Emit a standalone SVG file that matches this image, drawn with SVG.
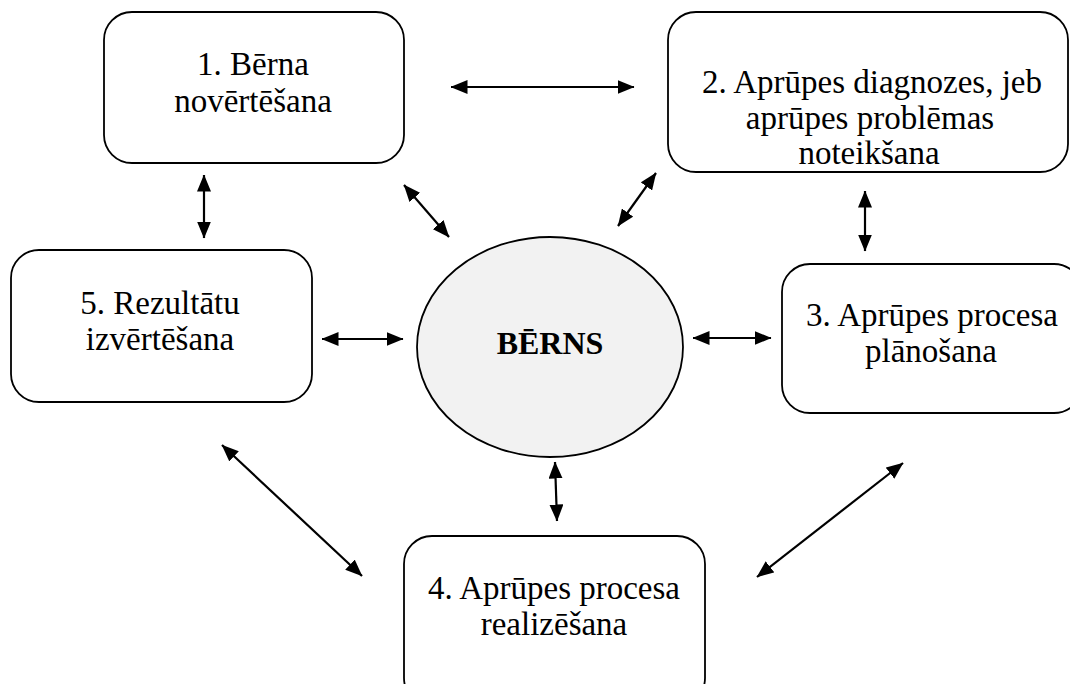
<svg xmlns="http://www.w3.org/2000/svg" width="1070" height="684" viewBox="0 0 1070 684">
<defs>
<marker id="ah" viewBox="0 0 17 14" refX="16.5" refY="7" markerWidth="17" markerHeight="14" markerUnits="userSpaceOnUse" orient="auto-start-reverse">
<path d="M0,0 L17,7 L0,14 Z" fill="#000"/>
</marker>
</defs>
<style>
.box{fill:#fff;stroke:#000;stroke-width:1.8}
.t{font-family:"Liberation Serif","Times New Roman",serif;font-size:33px;fill:#000;text-anchor:middle}
.b{font-weight:bold;font-size:32px}
.c{stroke:#000;stroke-width:2.2;fill:none;marker-start:url(#ah);marker-end:url(#ah)}
</style>
<rect width="1070" height="684" fill="#fff"/>
<g id="connectors">
<line class="c" x1="451" y1="87" x2="634" y2="87"/>
<line class="c" x1="204" y1="175" x2="204" y2="238"/>
<line class="c" x1="404" y1="185" x2="449" y2="237"/>
<line class="c" x1="656" y1="173" x2="618" y2="226"/>
<line class="c" x1="865" y1="191" x2="865" y2="251"/>
<line class="c" x1="322" y1="339" x2="403" y2="339"/>
<line class="c" x1="693" y1="338" x2="771" y2="338"/>
<line class="c" x1="555" y1="462" x2="557" y2="521"/>
<line class="c" x1="222" y1="445" x2="362" y2="576"/>
<line class="c" x1="903" y1="463" x2="757" y2="577"/>
</g>
<g id="n1">
<rect class="box" x="104" y="12" width="300" height="151" rx="28"/>
<text class="t" x="253" y="75">1. Bērna</text>
<text class="t" x="253" y="112">novērtēšana</text>
</g>
<g id="n2">
<rect class="box" x="668" y="12" width="400" height="160" rx="28"/>
<text class="t" x="872" y="93">2. Aprūpes diagnozes, jeb</text>
<text class="t" x="870" y="129">aprūpes problēmas</text>
<text class="t" x="869" y="164">noteikšana</text>
</g>
<g id="n3">
<rect class="box" x="782" y="264" width="300" height="149" rx="28"/>
<text class="t" x="932" y="326">3. Aprūpes procesa</text>
<text class="t" x="931" y="362">plānošana</text>
</g>
<g id="n4">
<rect class="box" x="404" y="536" width="301" height="170" rx="28"/>
<text class="t" x="554" y="599">4. Aprūpes procesa</text>
<text class="t" x="554" y="635">realizēšana</text>
</g>
<g id="n5">
<rect class="box" x="11" y="250" width="301" height="152" rx="28"/>
<text class="t" x="160" y="314">5. Rezultātu</text>
<text class="t" x="160" y="350">izvērtēšana</text>
</g>
<g id="center">
<ellipse cx="550" cy="347" rx="133" ry="110" fill="#f2f2f2" stroke="#000" stroke-width="1.8"/>
<text class="t b" x="550" y="354">BĒRNS</text>
</g>
</svg>
